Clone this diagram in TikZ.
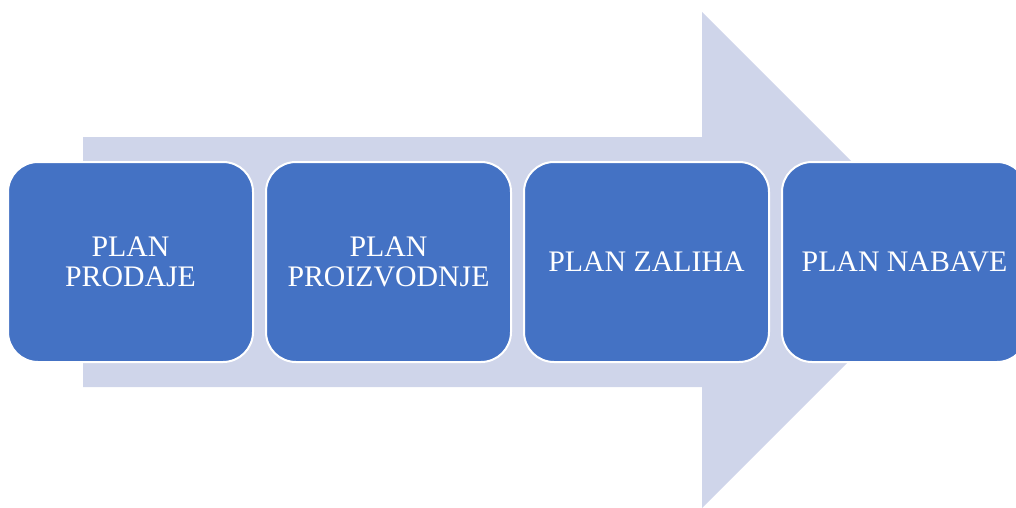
\documentclass[tikz,border=0pt]{standalone}
\usepackage{fontspec}
\setmainfont{Liberation Serif}
\usetikzlibrary{positioning}
\definecolor{boxblue}{HTML}{4472C4}
\definecolor{arrowgray}{HTML}{CFD5EA}

\begin{document}
\begin{tikzpicture}[x=1pt, y=-1pt]
    \tikzstyle{planbox} = [draw=white, line width=2pt, fill=boxblue, rounded corners=30pt, minimum width=245pt, minimum height=200pt, outer sep=0pt, inner sep=0pt, text=white, align=center, font=\fontsize{29.8}{30}\selectfont];

    \useasboundingbox (0,0) rectangle (1016,508);
    \clip (0,0) rectangle (1016,508);

    % big arrow behind the boxes
    \fill[arrowgray] (83,137) -- (702,137) -- (702,12) -- (950,260) -- (702,508) -- (702,387) -- (83,387) -- cycle;

    \node[planbox] (prodaja) at (130.5,262) {PLAN\\PRODAJE};
    \node[planbox, right = 13pt of prodaja] (proizvodnja) {PLAN\\PROIZVODNJE};
    \node[planbox, right = 13pt of proizvodnja] (zalihe) {PLAN ZALIHA};
    \node[planbox, right = 13pt of zalihe] (nabava) {PLAN NABAVE};
\end{tikzpicture}
\end{document}
